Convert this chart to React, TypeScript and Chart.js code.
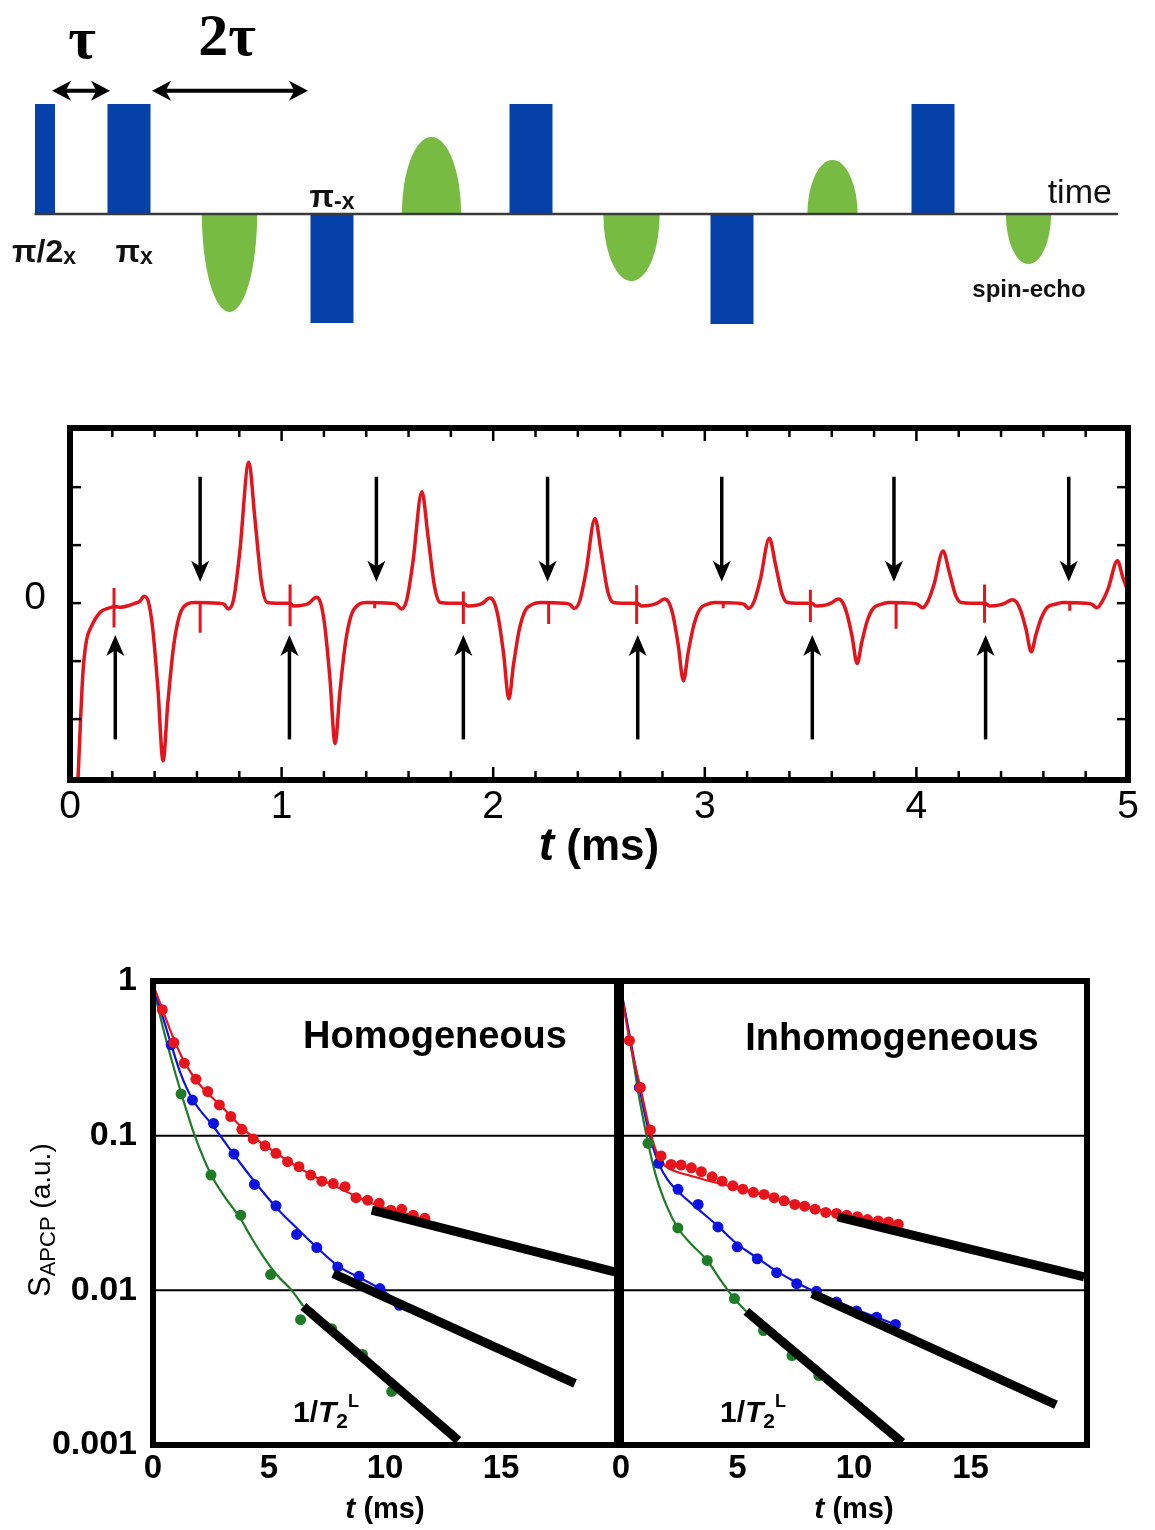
import React, { useEffect, useRef } from 'react';
import { Chart, registerables } from 'chart.js';
Chart.register(...registerables);

const SANS = '"Liberation Sans", Arial, Helvetica, sans-serif';
const SERIF = '"Liberation Serif", "Times New Roman", serif';

const BLUE_PULSE = '#0641aa';
const GREEN_ECHO = '#78bb43';
const RED_TRACE = '#e3141b';
const RED = '#e8141c';
const BLUE = '#0c12e0';
const GREEN = '#1e7b26';

// ---------------- Panel A: pulse sequence (time in units of tau) ----------------
const halfPulseT = [0.164];
const halfPulseAmp = [1.0];
const piPulseT = [1.0, 3.02, 5.0, 7.0, 9.0];
const piPulseAmp = [1.0, -0.99, 1.0, -1.0, 1.0];
const echoT = [2.0, 4.01, 6.0, 8.0, 9.95];
const echoAmp = [-0.89, 0.7, -0.61, 0.49, -0.455];
const echoWidth = [0.55, 0.59, 0.56, 0.5, 0.45];
const baselineT = [0.06, 10.84];
const tauArrowT = [0.234, 0.811];
const twoTauArrowT = [1.229, 2.781];

// ---------------- Panel B: CPMG trace ----------------
const traceT = [
  0.036, 0.05, 0.062, 0.078, 0.1, 0.145, 0.18, 0.213, 0.24, 0.27, 0.308, 0.33, 0.35, 0.37, 0.39, 0.415, 0.44, 0.462, 0.489, 0.516, 0.552, 0.59, 0.7, 0.728, 0.748, 0.773, 0.802, 0.845, 0.874, 0.905, 0.932, 0.975,
  1.037, 1.057, 1.107, 1.13, 1.163, 1.183, 1.203, 1.228, 1.253, 1.275, 1.302, 1.329, 1.365, 1.403, 1.513, 1.543, 1.566, 1.591, 1.62, 1.663, 1.692, 1.723, 1.75, 1.793,
  1.859, 1.879, 1.929, 1.95, 1.984, 2.004, 2.024, 2.049, 2.074, 2.096, 2.123, 2.15, 2.186, 2.224, 2.331, 2.361, 2.384, 2.409, 2.438, 2.481, 2.51, 2.541, 2.568, 2.611,
  2.681, 2.701, 2.751, 2.775, 2.809, 2.829, 2.849, 2.874, 2.899, 2.921, 2.948, 2.975, 3.011, 3.049, 3.155, 3.185, 3.208, 3.233, 3.262, 3.305, 3.334, 3.365, 3.392, 3.435,
  3.505, 3.525, 3.575, 3.596, 3.63, 3.65, 3.67, 3.695, 3.72, 3.742, 3.769, 3.796, 3.832, 3.87, 3.976, 4.006, 4.029, 4.054, 4.083, 4.126, 4.155, 4.186, 4.213, 4.256,
  4.325, 4.345, 4.395, 4.419, 4.453, 4.473, 4.493, 4.518, 4.543, 4.565, 4.592, 4.619, 4.655, 4.693, 4.8, 4.83, 4.853, 4.878, 4.907, 4.95, 4.975, 5.0,
];
const traceV = [
  -3.2, -2.0, -1.15, -0.64, -0.41, -0.15, -0.09, -0.06, -0.07, -0.05, 0.0, 0.03, 0.12, 0.03, -0.41, -1.45, -2.72, -1.74, -0.76, -0.23, -0.02, 0.01, 0.0, -0.02, -0.1, 0.06, 0.87, 2.43, 1.45, 0.35, 0.01, 0.0,
  0.0, -0.05, -0.03, 0.0, 0.1, 0.02, -0.36, -1.28, -2.42, -1.55, -0.68, -0.21, -0.02, 0.01, 0.0, -0.02, -0.1, 0.05, 0.69, 1.92, 1.15, 0.28, 0.01, 0.0,
  0.0, -0.05, -0.03, 0.0, 0.09, 0.02, -0.25, -0.87, -1.65, -1.06, -0.46, -0.14, -0.02, 0.01, 0.0, -0.02, -0.09, 0.04, 0.53, 1.46, 0.88, 0.21, 0.01, 0.0,
  0.0, -0.05, -0.03, 0.0, 0.07, 0.02, -0.2, -0.71, -1.34, -0.86, -0.38, -0.11, -0.02, 0.01, 0.0, -0.02, -0.09, 0.03, 0.4, 1.12, 0.67, 0.16, 0.01, 0.0,
  0.0, -0.05, -0.03, 0.0, 0.07, 0.02, -0.16, -0.55, -1.04, -0.67, -0.29, -0.09, -0.02, 0.01, 0.0, -0.02, -0.08, 0.03, 0.32, 0.9, 0.54, 0.13, 0.01, 0.0,
  0.0, -0.05, -0.03, 0.0, 0.06, 0.02, -0.13, -0.45, -0.84, -0.54, -0.24, -0.07, -0.02, 0.01, 0.0, -0.02, -0.08, 0.03, 0.26, 0.73, 0.45, 0.2,
];
const pulseSpikeT = [0.208, 1.04, 1.859, 2.678, 3.499, 4.322];
const pulseSpikeTop = [0.26, 0.32, 0.2, 0.31, 0.23, 0.32];
const pulseSpikeBottom = [-0.42, -0.4, -0.36, -0.36, -0.33, -0.34];
const midSpikeT = [0.615, 1.44, 2.262, 3.087, 3.904, 4.725];
const midSpikeBottom = [-0.51, -0.09, -0.36, -0.09, -0.44, -0.13];
const arrowUpT = [0.214, 1.037, 1.859, 2.683, 3.508, 4.327];
const arrowUpSpan = [-2.35, -0.55];
const arrowDownT = [0.615, 1.448, 2.257, 3.08, 3.894, 4.72];
const arrowDownSpan = [2.18, 0.37];
const midXTicks = [0, 1, 2, 3, 4, 5];

// ---------------- Panel C: decays ----------------
const logTicks = [0.001, 0.01, 0.1, 1];
const logTickLabels = ['0.001', '0.01', '0.1', '1'];
const decayXTicks = [0, 5, 10, 15];

const homRedT = [0.4, 0.9, 1.35, 1.85, 2.36, 2.86, 3.35, 3.83, 4.32, 4.83, 5.3, 5.8, 6.29, 6.8, 7.28, 7.77, 8.28, 8.75, 9.25, 9.75, 10.25, 10.72, 11.22, 11.72];
const homRedS = [0.653, 0.4, 0.294, 0.232, 0.193, 0.158, 0.133, 0.11, 0.0953, 0.086, 0.0769, 0.0679, 0.063, 0.0556, 0.0508, 0.049, 0.0468, 0.0397, 0.0383, 0.0365, 0.033, 0.0334, 0.0306, 0.0292];
const homRedFitT = [0, 0.4, 0.9, 1.35, 2, 3, 4, 5, 6, 7, 8, 9, 10, 11, 11.9];
const homRedFitS = [0.95, 0.66, 0.42, 0.3, 0.215, 0.152, 0.107, 0.083, 0.066, 0.054, 0.046, 0.039, 0.034, 0.031, 0.028];
const homBlueT = [0.78, 1.7, 2.61, 3.49, 4.37, 5.3, 6.19, 7.06, 7.96, 8.88, 9.78, 10.62];
const homBlueS = [0.387, 0.17, 0.12, 0.076, 0.0484, 0.0352, 0.023, 0.0189, 0.01416, 0.01233, 0.01026, 0.008];
const homBlueFitT = [0, 0.4, 0.78, 1.2, 1.7, 2.6, 3.5, 4.4, 5.3, 6.2, 7.1, 8, 8.9, 9.8, 10.6];
const homBlueFitS = [0.93, 0.6, 0.39, 0.25, 0.172, 0.115, 0.075, 0.05, 0.0345, 0.0252, 0.0187, 0.0143, 0.0121, 0.0102, 0.0083];
const homGreenT = [1.21, 2.5, 3.78, 5.07, 6.36, 7.7, 9.03, 10.29];
const homGreenS = [0.186, 0.0556, 0.0306, 0.01264, 0.00646, 0.00565, 0.00385, 0.00222];
const homGreenFitT = [0, 0.4, 0.7, 1.24, 1.8, 2.5, 3.1, 3.78, 4.18, 4.7, 5.33, 5.98, 6.48];
const homGreenFitS = [0.92, 0.52, 0.35, 0.183, 0.1, 0.056, 0.04, 0.029, 0.0227, 0.017, 0.0126, 0.01, 0.0079];
const homAsymRedT = [9.43, 19.9];
const homAsymRedS = [0.033, 0.01315];
const homAsymBlueT = [7.77, 18.19];
const homAsymBlueS = [0.01282, 0.0025];
const homAsymGreenT = [6.48, 13.16];
const homAsymGreenS = [0.00787, 0.00107];

const inhRedT = [0.36, 0.83, 1.26, 1.72, 2.15, 2.58, 3.02, 3.45, 3.91, 4.34, 4.8, 5.23, 5.68, 6.14, 6.57, 7.0, 7.46, 7.88, 8.33, 8.79, 9.25, 9.69, 10.15, 10.58, 11.04, 11.48, 11.9];
const inhRedS = [0.413, 0.205, 0.109, 0.074, 0.0652, 0.0645, 0.062, 0.0585, 0.0542, 0.0508, 0.0474, 0.0451, 0.043, 0.0417, 0.0397, 0.0379, 0.0359, 0.035, 0.0335, 0.0319, 0.0314, 0.0306, 0.0299, 0.0287, 0.0281, 0.0277, 0.0267];
const inhRedFitT = [0, 0.36, 0.83, 1.26, 1.5, 1.8, 2.3, 3, 4, 5, 6, 7, 8, 9, 10, 11, 11.9];
const inhRedFitS = [0.88, 0.42, 0.205, 0.105, 0.08, 0.066, 0.059, 0.055, 0.05, 0.046, 0.042, 0.038, 0.0345, 0.0318, 0.03, 0.0283, 0.0268];
const inhBlueT = [0.79, 1.62, 2.45, 3.31, 4.16, 4.99, 5.85, 6.68, 7.54, 8.39, 9.25, 10.11, 10.97, 11.78];
const inhBlueS = [0.205, 0.0662, 0.045, 0.0359, 0.0257, 0.0191, 0.016, 0.013, 0.01105, 0.00986, 0.0084, 0.00734, 0.00671, 0.00602];
const inhBlueFitT = [0, 0.4, 0.79, 1.2, 1.62, 2, 2.45, 3.31, 4.16, 5, 5.85, 6.68, 7.54, 8.39, 9.25, 10.11, 10.97, 11.8];
const inhBlueFitS = [0.88, 0.42, 0.205, 0.105, 0.066, 0.052, 0.0435, 0.0335, 0.026, 0.0198, 0.0162, 0.0133, 0.0112, 0.0097, 0.0085, 0.0075, 0.0067, 0.006];
const inhGreenT = [1.16, 2.44, 3.7, 4.87, 6.12, 7.34, 8.49];
const inhGreenS = [0.0893, 0.0253, 0.0156, 0.00884, 0.0055, 0.00379, 0.00281];
const inhGreenFitT = [0, 0.4, 0.8, 1.16, 1.5, 2, 2.44, 3, 3.7, 4.3, 4.87, 5.38];
const inhGreenFitS = [0.88, 0.4, 0.17, 0.09, 0.055, 0.034, 0.0253, 0.02, 0.0156, 0.0115, 0.0088, 0.0073];
const inhAsymRedT = [9.3, 19.88];
const inhAsymRedS = [0.0299, 0.0122];
const inhAsymBlueT = [8.2, 18.67];
const inhAsymBlueS = [0.00952, 0.00182];
const inhAsymGreenT = [5.38, 12.07];
const inhAsymGreenS = [0.00731, 0.00104];

// ---------------- helpers ----------------
type Run = { t: string; font: string; dy?: number };
function drawRuns(ctx: any, x: number, y: number, runs: Run[], align: string = 'left') {
  ctx.save();
  ctx.textBaseline = 'alphabetic';
  ctx.textAlign = 'left';
  let total = 0;
  const widths = runs.map((r) => {
    ctx.font = r.font;
    const w = ctx.measureText(r.t).width;
    total += w;
    return w;
  });
  let cx = align === 'left' ? x : align === 'center' ? x - total / 2 : x - total;
  runs.forEach((r, i) => {
    ctx.font = r.font;
    ctx.fillText(r.t, cx, y + (r.dy || 0));
    cx += widths[i];
  });
  ctx.restore();
}

function arrowHead(ctx: any, tx: number, ty: number, ux: number, uy: number, len: number, half: number) {
  const px = -uy, py = ux;
  const bx = tx - ux * len, by = ty - uy * len;
  const nx = tx - ux * len * 0.72, ny = ty - uy * len * 0.72;
  ctx.beginPath();
  ctx.moveTo(tx, ty);
  ctx.lineTo(bx + px * half, by + py * half);
  ctx.lineTo(nx, ny);
  ctx.lineTo(bx - px * half, by - py * half);
  ctx.closePath();
  ctx.fill();
}

const pts = (xs: number[], ys: number[]) => xs.map((x, i) => ({ x, y: ys[i] }));

// ---------------- chart configs ----------------
function makePulseConfig(): any {
  const pulsePlugin = {
    id: 'pulseDeco',
    beforeDatasetsDraw(chart: any) {
      const { ctx, scales } = chart;
      const x = scales.x, y = scales.y;
      const y0 = y.getPixelForValue(0);
      ctx.save();
      ctx.fillStyle = GREEN_ECHO;
      echoT.forEach((t, i) => {
        const cx = x.getPixelForValue(t);
        const rx = Math.abs(x.getPixelForValue(t + echoWidth[i] / 2) - cx);
        const ry = Math.abs(y.getPixelForValue(echoAmp[i]) - y0);
        ctx.beginPath();
        if (echoAmp[i] > 0) ctx.ellipse(cx, y0, rx, ry, 0, Math.PI, 2 * Math.PI);
        else ctx.ellipse(cx, y0, rx, ry, 0, 0, Math.PI);
        ctx.closePath();
        ctx.fill();
      });
      ctx.restore();
    },
    afterDatasetsDraw(chart: any) {
      const { ctx, scales } = chart;
      const x = scales.x, y = scales.y;
      ctx.save();
      ctx.fillStyle = '#000';
      ctx.strokeStyle = '#000';
      ctx.lineWidth = 4;
      const ay = y.getPixelForValue(1.12);
      [tauArrowT, twoTauArrowT].forEach((a) => {
        const x1 = x.getPixelForValue(a[0]);
        const x2 = x.getPixelForValue(a[1]);
        ctx.beginPath();
        ctx.moveTo(x1 + 12, ay);
        ctx.lineTo(x2 - 12, ay);
        ctx.stroke();
        arrowHead(ctx, x1, ay, -1, 0, 19, 10);
        arrowHead(ctx, x2, ay, 1, 0, 19, 10);
      });
      ctx.fillStyle = '#000';
      drawRuns(ctx, x.getPixelForValue(0.532), y.getPixelForValue(1.42), [{ t: 'τ', font: `bold 60px ${SERIF}` }], 'center');
      drawRuns(ctx, x.getPixelForValue(1.975), y.getPixelForValue(1.445), [{ t: '2τ', font: `bold 60px ${SERIF}` }], 'center');
      ctx.fillStyle = '#111';
      drawRuns(ctx, x.getPixelForValue(0.155), y.getPixelForValue(-0.436), [
        { t: 'π/2', font: `bold 32px ${SANS}` },
        { t: 'x', font: `bold 23px ${SANS}`, dy: 2 },
      ], 'center');
      drawRuns(ctx, x.getPixelForValue(1.05), y.getPixelForValue(-0.436), [
        { t: 'π', font: `bold 32px ${SANS}` },
        { t: 'x', font: `bold 23px ${SANS}`, dy: 2 },
      ], 'center');
      drawRuns(ctx, x.getPixelForValue(3.02), y.getPixelForValue(0.064), [
        { t: 'π', font: `bold 32px ${SANS}` },
        { t: '-x', font: `bold 23px ${SANS}`, dy: 2 },
      ], 'center');
      drawRuns(ctx, x.getPixelForValue(10.78), y.getPixelForValue(0.1), [{ t: 'time', font: `34px ${SANS}` }], 'right');
      drawRuns(ctx, x.getPixelForValue(9.955), y.getPixelForValue(-0.755), [{ t: 'spin-echo', font: `bold 24px ${SANS}` }], 'center');
      ctx.restore();
    },
  };
  return {
    type: 'line',
    data: {
      datasets: [
        {
          type: 'bar',
          data: halfPulseT.map((t, i) => ({ x: t, y: halfPulseAmp[i] > 0 ? [0, halfPulseAmp[i]] : [halfPulseAmp[i], 0] })),
          backgroundColor: BLUE_PULSE,
          borderWidth: 0,
          grouped: false,
          maxBarThickness: 20,
          order: 1,
        },
        {
          type: 'bar',
          data: piPulseT.map((t, i) => ({ x: t, y: piPulseAmp[i] > 0 ? [0, piPulseAmp[i]] : [piPulseAmp[i], 0] })),
          backgroundColor: BLUE_PULSE,
          borderWidth: 0,
          grouped: false,
          maxBarThickness: 43,
          order: 1,
        },
        {
          type: 'line',
          data: baselineT.map((t) => ({ x: t, y: 0 })),
          borderColor: '#3a3a3a',
          borderWidth: 2.5,
          pointRadius: 0,
          order: 0,
        },
      ],
    },
    options: {
      responsive: false,
      animation: false,
      devicePixelRatio: 1,
      events: [],
      layout: { padding: 0 },
      plugins: { legend: { display: false }, tooltip: { enabled: false } },
      scales: {
        x: { type: 'linear', display: false, min: -0.2836, max: 11.209, offset: false },
        y: { type: 'linear', display: false, min: -1.145, max: 1.945 },
      },
    },
    plugins: [pulsePlugin],
  };
}

function makeTraceConfig(): any {
  const spikeData: any[] = [];
  pulseSpikeT.forEach((t, i) => {
    spikeData.push({ x: t, y: pulseSpikeTop[i] }, { x: t, y: pulseSpikeBottom[i] }, { x: t, y: null });
  });
  midSpikeT.forEach((t, i) => {
    spikeData.push({ x: t, y: 0 }, { x: t, y: midSpikeBottom[i] }, { x: t, y: null });
  });
  spikeData.sort((a, b) => a.x - b.x);
  const midPlugin = {
    id: 'midDeco',
    afterDraw(chart: any) {
      const { ctx, chartArea, scales } = chart;
      const { left, right, top, bottom } = chartArea;
      const x = scales.x, y = scales.y;
      ctx.save();
      ctx.strokeStyle = '#000';
      ctx.fillStyle = '#000';
      ctx.lineWidth = 2.5;
      const seg = (a: number, b: number, c: number, d: number) => {
        ctx.beginPath();
        ctx.moveTo(a, b);
        ctx.lineTo(c, d);
        ctx.stroke();
      };
      for (let i = 1; i < 25; i++) {
        const px = x.getPixelForValue(i * 0.2);
        const L = i % 5 === 0 ? 13 : 9;
        seg(px, top, px, top + L);
        seg(px, bottom, px, bottom - L);
      }
      for (let v = -2; v <= 2; v++) {
        const py = y.getPixelForValue(v);
        seg(left, py, left + 11, py);
        seg(right, py, right - 11, py);
      }
      ctx.lineWidth = 6;
      ctx.strokeRect(left, top, right - left, bottom - top);
      // arrows
      ctx.lineWidth = 3.5;
      const drawV = (t: number, tail: number, tip: number) => {
        const px = x.getPixelForValue(t);
        const y1 = y.getPixelForValue(tail);
        const y2 = y.getPixelForValue(tip);
        const dir = y2 > y1 ? 1 : -1;
        seg(px, y1, px, y2 - dir * 14);
        arrowHead(ctx, px, y2, 0, dir, 21, 9);
      };
      arrowUpT.forEach((t) => drawV(t, arrowUpSpan[0], arrowUpSpan[1]));
      arrowDownT.forEach((t) => drawV(t, arrowDownSpan[0], arrowDownSpan[1]));
      // y label "0"
      ctx.font = `39px ${SANS}`;
      ctx.textAlign = 'right';
      ctx.textBaseline = 'middle';
      ctx.fillText('0', left - 24, y.getPixelForValue(0) - 5);
      drawRuns(ctx, (left + right) / 2, 450, [
        { t: 't', font: `italic bold 46px ${SANS}` },
        { t: ' (ms)', font: `bold 44px ${SANS}` },
      ], 'center');
      ctx.restore();
    },
  };
  return {
    type: 'line',
    data: {
      datasets: [
        {
          data: pts(traceT, traceV),
          borderColor: RED_TRACE,
          borderWidth: 3.5,
          pointRadius: 0,
          tension: 0.4,
          cubicInterpolationMode: 'monotone',
          fill: false,
        },
        {
          data: spikeData,
          borderColor: RED_TRACE,
          borderWidth: 3,
          pointRadius: 0,
          tension: 0,
          spanGaps: false,
          fill: false,
        },
      ],
    },
    options: {
      responsive: false,
      animation: false,
      devicePixelRatio: 1,
      events: [],
      layout: { padding: { left: 0, right: 27, top: 18, bottom: 0 } },
      plugins: { legend: { display: false }, tooltip: { enabled: false } },
      scales: {
        x: {
          type: 'linear',
          min: 0,
          max: 5,
          afterBuildTicks: (s: any) => { s.ticks = midXTicks.map((v) => ({ value: v })); },
          ticks: { font: { family: SANS, size: 39 }, color: '#000', padding: 4, maxRotation: 0, autoSkip: false, callback: (v: any) => String(v) },
          grid: { display: false, drawTicks: false },
          border: { display: false },
          afterFit: (s: any) => { s.height = 100; },
        },
        y: {
          type: 'linear',
          min: -3.05,
          max: 3.02,
          ticks: { display: false },
          grid: { display: false, drawTicks: false },
          border: { display: false },
          afterFit: (s: any) => { s.width = 70; },
        },
      },
    },
    plugins: [midPlugin],
  };
}

function makeDecayConfig(p: any): any {
  const decoPlugin = {
    id: 'decayDeco',
    beforeDatasetsDraw(chart: any) {
      const { ctx, chartArea, scales } = chart;
      const y = scales.y;
      ctx.save();
      ctx.strokeStyle = '#000';
      ctx.lineWidth = 2;
      [0.1, 0.01].forEach((v) => {
        const py = y.getPixelForValue(v);
        ctx.beginPath();
        ctx.moveTo(chartArea.left, py);
        ctx.lineTo(chartArea.right, py);
        ctx.stroke();
      });
      ctx.restore();
    },
    afterDraw(chart: any) {
      const { ctx, chartArea } = chart;
      const { left, right, top, bottom } = chartArea;
      ctx.save();
      ctx.strokeStyle = '#000';
      ctx.fillStyle = '#000';
      ctx.lineWidth = 6;
      ctx.strokeRect(left, top, right - left, bottom - top);
      drawRuns(ctx, p.titleX, p.titleY, [{ t: p.title, font: `bold 38px ${SANS}` }], 'center');
      drawRuns(ctx, p.rateX, 482, [
        { t: '1/', font: `bold 30px ${SANS}` },
        { t: 'T', font: `italic bold 30px ${SANS}` },
        { t: '2', font: `bold 21px ${SANS}`, dy: 6 },
        { t: 'L', font: `bold 18px ${SANS}`, dy: -15 },
      ], 'left');
      drawRuns(ctx, (left + right) / 2, 578, [
        { t: 't', font: `italic bold 30px ${SANS}` },
        { t: ' (ms)', font: `bold 29px ${SANS}` },
      ], 'center');
      if (p.yTitle) {
        ctx.save();
        ctx.translate(50, 357);
        ctx.rotate(-Math.PI / 2);
        drawRuns(ctx, 0, 0, [
          { t: 'S', font: `31px ${SANS}` },
          { t: 'APCP', font: `22px ${SANS}`, dy: 5 },
          { t: ' (a.u.)', font: `28px ${SANS}` },
        ], 'left');
        ctx.restore();
      }
      ctx.restore();
    },
  };
  const fit = (xs: number[], ys: number[], c: string) => ({
    data: pts(xs, ys), borderColor: c, borderWidth: 2.2, pointRadius: 0, tension: 0.4, cubicInterpolationMode: 'monotone', order: 3,
  });
  const dots = (xs: number[], ys: number[], c: string) => ({
    data: pts(xs, ys), showLine: false, pointRadius: 5.5, pointBackgroundColor: c, pointBorderWidth: 0, borderColor: c, order: 2,
  });
  const asym = (xs: number[], ys: number[]) => ({
    data: pts(xs, ys), borderColor: '#000', borderWidth: 9, pointRadius: 0, borderCapStyle: 'butt', tension: 0, order: 1,
  });
  const yWidth = p.yTitle ? 153 : 0;
  return {
    type: 'line',
    data: {
      datasets: [
        fit(p.redFit[0], p.redFit[1], RED),
        fit(p.blueFit[0], p.blueFit[1], BLUE),
        fit(p.greenFit[0], p.greenFit[1], GREEN),
        dots(p.red[0], p.red[1], RED),
        dots(p.blue[0], p.blue[1], BLUE),
        dots(p.green[0], p.green[1], GREEN),
        asym(p.asymRed[0], p.asymRed[1]),
        asym(p.asymBlue[0], p.asymBlue[1]),
        asym(p.asymGreen[0], p.asymGreen[1]),
      ],
    },
    options: {
      responsive: false,
      animation: false,
      devicePixelRatio: 1,
      events: [],
      layout: { padding: p.padding },
      plugins: { legend: { display: false }, tooltip: { enabled: false } },
      scales: {
        x: {
          type: 'linear',
          min: 0,
          max: 20,
          afterBuildTicks: (s: any) => { s.ticks = decayXTicks.map((v) => ({ value: v })); },
          ticks: { font: { family: SANS, size: 33, weight: 'bold' }, color: '#000', padding: 4, maxRotation: 0, autoSkip: false, callback: (v: any) => String(v) },
          grid: { display: false, drawTicks: false },
          border: { display: false },
          afterFit: (s: any) => { s.height = 85; },
        },
        y: {
          type: 'logarithmic',
          display: p.yTitle ? true : false,
          min: 0.001,
          max: 1,
          afterBuildTicks: (s: any) => { s.ticks = logTicks.map((v) => ({ value: v })); },
          ticks: {
            font: { family: SANS, size: 34, weight: 'bold' },
            color: '#000',
            padding: 16,
            autoSkip: false,
            callback: (v: any) => { const i = logTicks.indexOf(v); return i >= 0 ? logTickLabels[i] : ''; },
          },
          grid: { display: false, drawTicks: false },
          border: { display: false },
          afterFit: (s: any) => { s.width = yWidth; },
        },
      },
    },
    plugins: [decoPlugin],
  };
}

function ChartCanvas({ make, left, top, width, height }: any) {
  const ref = useRef<HTMLCanvasElement>(null);
  useEffect(() => {
    const chart = new Chart(ref.current as HTMLCanvasElement, make());
    return () => chart.destroy();
  }, []);
  return (
    <canvas
      ref={ref}
      width={width}
      height={height}
      style={{ position: 'absolute', left, top, width, height }}
    />
  );
}

export default function App() {
  return (
    <div style={{ position: 'absolute', left: 0, top: 0, width: 1155, height: 1530, background: '#fff', overflow: 'hidden' }}>
      <ChartCanvas make={makePulseConfig} left={0} top={0} width={1155} height={340} />
      <ChartCanvas make={makeTraceConfig} left={0} top={410} width={1155} height={470} />
      <ChartCanvas
        make={() =>
          makeDecayConfig({
            title: 'Homogeneous', titleX: 435, titleY: 108, rateX: 293, yTitle: true,
            padding: { left: 0, right: 23, top: 41, bottom: 0 },
            red: [homRedT, homRedS], redFit: [homRedFitT, homRedFitS],
            blue: [homBlueT, homBlueS], blueFit: [homBlueFitT, homBlueFitS],
            green: [homGreenT, homGreenS], greenFit: [homGreenFitT, homGreenFitS],
            asymRed: [homAsymRedT, homAsymRedS], asymBlue: [homAsymBlueT, homAsymBlueS], asymGreen: [homAsymGreenT, homAsymGreenS],
          })
        }
        left={0} top={940} width={640} height={590}
      />
      <ChartCanvas
        make={() =>
          makeDecayConfig({
            title: 'Inhomogeneous', titleX: 292, titleY: 110, rateX: 120, yTitle: false,
            padding: { left: 21, right: 68, top: 41, bottom: 0 },
            red: [inhRedT, inhRedS], redFit: [inhRedFitT, inhRedFitS],
            blue: [inhBlueT, inhBlueS], blueFit: [inhBlueFitT, inhBlueFitS],
            green: [inhGreenT, inhGreenS], greenFit: [inhGreenFitT, inhGreenFitS],
            asymRed: [inhAsymRedT, inhAsymRedS], asymBlue: [inhAsymBlueT, inhAsymBlueS], asymGreen: [inhAsymGreenT, inhAsymGreenS],
          })
        }
        left={600} top={940} width={555} height={590}
      />
    </div>
  );
}
